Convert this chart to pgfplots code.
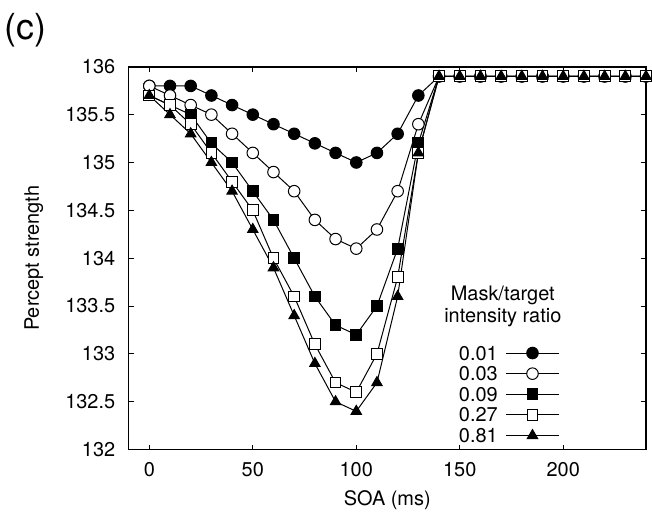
\documentclass[border=0pt]{standalone}
\usepackage{fontspec}
\setmainfont{TeX Gyre Heros}
\usepackage{pgfplots}
\pgfplotsset{compat=1.18}
\begin{document}
\begin{tikzpicture}
\begin{axis}[
  scale only axis,
  width=259.5pt, height=192pt,
  xmin=-10, xmax=240, ymin=132, ymax=136,
  xtick={0,50,100,150,200},
  ytick={132,132.5,133,133.5,134,134.5,135,135.5,136},
  tick align=inside,
  major tick length=2.5pt,
  axis line style={line width=0.75pt},
  every tick/.style={black, line width=0.5pt},
  /pgf/number format/assume math mode=true,
  /pgf/number format/fixed,
  tick label style={font=\fontsize{10}{12}\selectfont},
  yticklabel style={anchor=east, xshift=-3.2pt},
  xticklabel style={anchor=base, yshift=-13.5pt},
  clip=false,
  legend plot pos=right,
  legend style={draw=none, fill=none, at={(axis cs:148,133.117)}, anchor=north west,
    inner sep=0pt, outer sep=0pt,
    font=\fontsize{10}{12}\selectfont, row sep=0pt, column sep=2pt,
    nodes={inner sep=1.675pt, text height=7pt, text depth=0pt}},
  legend image code/.code={\draw[mark repeat=2,mark phase=2,#1] plot coordinates {(0pt,0pt)(13.5pt,0pt)(27pt,0pt)};},
  every axis plot/.append style={black, line width=0.5pt, mark size=2.9pt},
]
\addplot[black, mark=*, mark options={fill=black}] coordinates {
(0,135.8)(10,135.8)(20,135.8)(30,135.7)(40,135.6)(50,135.5)(60,135.4)(70,135.3)(80,135.2)(90,135.1)(100,135.0)(110,135.1)(120,135.3)(130,135.7)
(140,135.9)(150,135.9)(160,135.9)(170,135.9)(180,135.9)(190,135.9)(200,135.9)(210,135.9)(220,135.9)(230,135.9)(240,135.9)};
\addlegendentry{0.01}
\addplot[black, mark=*, mark options={fill=white}] coordinates {
(0,135.8)(10,135.7)(20,135.6)(30,135.5)(40,135.3)(50,135.1)(60,134.9)(70,134.7)(80,134.4)(90,134.2)(100,134.1)(110,134.3)(120,134.7)(130,135.4)
(140,135.9)(150,135.9)(160,135.9)(170,135.9)(180,135.9)(190,135.9)(200,135.9)(210,135.9)(220,135.9)(230,135.9)(240,135.9)};
\addlegendentry{0.03}
\addplot[black, mark=square*, mark size=2.7pt, mark options={fill=black}] coordinates {
(0,135.7)(10,135.6)(20,135.5)(30,135.2)(40,135.0)(50,134.7)(60,134.4)(70,134.0)(80,133.6)(90,133.3)(100,133.2)(110,133.5)(120,134.1)(130,135.2)
(140,135.9)(150,135.9)(160,135.9)(170,135.9)(180,135.9)(190,135.9)(200,135.9)(210,135.9)(220,135.9)(230,135.9)(240,135.9)};
\addlegendentry{0.09}
\addplot[black, mark=square*, mark size=2.7pt, mark options={fill=white}] coordinates {
(0,135.7)(10,135.6)(20,135.4)(30,135.1)(40,134.8)(50,134.5)(60,134.0)(70,133.6)(80,133.1)(90,132.7)(100,132.6)(110,133.0)(120,133.8)(130,135.1)
(140,135.9)(150,135.9)(160,135.9)(170,135.9)(180,135.9)(190,135.9)(200,135.9)(210,135.9)(220,135.9)(230,135.9)(240,135.9)};
\addlegendentry{0.27}
\addplot[black, mark=triangle*, mark size=3pt, mark options={fill=black}] coordinates {
(0,135.7)(10,135.5)(20,135.3)(30,135.0)(40,134.7)(50,134.3)(60,133.9)(70,133.4)(80,132.9)(90,132.5)(100,132.4)(110,132.7)(120,133.6)(130,135.1)
(140,135.9)(150,135.9)(160,135.9)(170,135.9)(180,135.9)(190,135.9)(200,135.9)(210,135.9)(220,135.9)(230,135.9)(240,135.9)};
\addlegendentry{0.81}
\node[anchor=base, inner sep=0pt, font=\fontsize{10}{12}\selectfont] at (axis cs:170.8,133.56) {Mask/target};
\node[anchor=base, inner sep=0pt, font=\fontsize{10}{12}\selectfont] at (axis cs:170.8,133.33) {intensity ratio};
\path (rel axis cs:0.5,0) ++(0pt,-28pt) node[anchor=base, inner sep=0pt, font=\fontsize{10}{12}\selectfont] {SOA (ms)};
\path (rel axis cs:0,0.5) ++(-45pt,0pt) node[rotate=90, anchor=base, inner sep=0pt, font=\fontsize{10}{12}\selectfont] {Percept strength};
\path (rel axis cs:0,1) ++(-62.25pt,13.5pt) node[anchor=base west, inner sep=0pt, font=\fontsize{18}{21}\selectfont] {(c)};
\end{axis}
\path ([xshift=-64.5pt,yshift=33.5pt]current axis.north west) rectangle ([xshift=3pt,yshift=-32.5pt]current axis.south east);
\end{tikzpicture}
\end{document}
